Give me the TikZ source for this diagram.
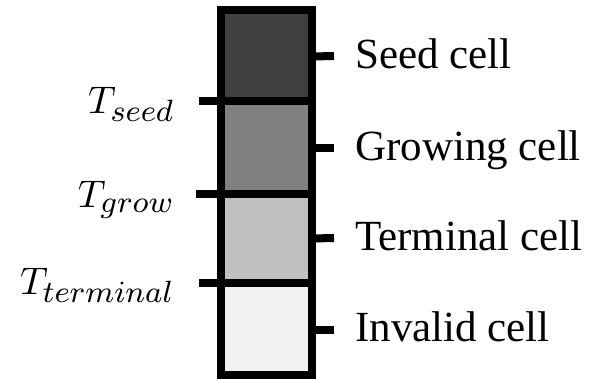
\documentclass[tikz,border=0pt]{standalone}
\usepackage{fontspec}
\setmainfont{Liberation Serif}
\DeclareMathSizes{10}{10}{8}{6}
\newcommand{\thr}[1]{\scalebox{3.85}{$T_{#1}$}}
\begin{document}
\begin{tikzpicture}[x=1pt,y=-1pt,
  cellbox/.style={draw=black,line width=8pt,minimum width=91pt,inner sep=0pt,outer sep=0pt},
  tickline/.style={line width=8pt},
  celllabel/.style={anchor=base west,inner sep=0pt,font=\fontsize{43}{43}\selectfont},
  thrlabel/.style={anchor=base east,inner sep=0pt,font=\fontsize{10}{12}\selectfont}]
\useasboundingbox (0,0) rectangle (595,378);
% cells
\node[cellbox,fill={rgb,255:red,64;green,64;blue,64},minimum height=91pt,anchor=north west] (c1) at (221,10) {};
\node[cellbox,fill={rgb,255:red,128;green,128;blue,128},minimum height=93pt,anchor=north west] (c2) at (221,101) {};
\node[cellbox,fill={rgb,255:red,192;green,192;blue,192},minimum height=89pt,anchor=north west] (c3) at (221,194) {};
\node[cellbox,fill={rgb,255:red,242;green,242;blue,242},minimum height=91.5pt,anchor=north west] (c4) at (221,283) {};
% threshold ticks (left)
\coordinate (t1) at (199,101);
\coordinate (t2) at (196,194);
\coordinate (t3) at (199,283);
\draw[tickline] (t1) -- (c1.south west);
\draw[tickline] (t2) -- (c2.south west);
\draw[tickline] (t3) -- (c3.south west);
% right ticks
\coordinate (r1) at (334,56);
\coordinate (r2) at (334,147.5);
\coordinate (r3) at (334,238);
\coordinate (r4) at (334,329.5);
\draw[tickline] (c1.east) ++(0,1) coordinate (e1) (e1) -- (r1);
\draw[tickline] (c2.east) -- (r2);
\draw[tickline] (c3.east) -- (r3);
\draw[tickline] (c4.east) ++(0,0.75) coordinate (e4) (e4) -- (r4);
% labels
\node[celllabel] (l1) at (355,68) {Seed cell};
\node[celllabel] (l2) at (355,160) {Growing cell};
\node[celllabel] (l3) at (355,250) {Terminal cell};
\node[celllabel] (l4) at (355,341) {Invalid cell};
\node[thrlabel] (s1) at (175,113) {\thr{seed}};
\node[thrlabel] (s2) at (175,207) {\thr{grow}};
\node[thrlabel] (s3) at (175,294) {\thr{terminal}};
\end{tikzpicture}
\end{document}
